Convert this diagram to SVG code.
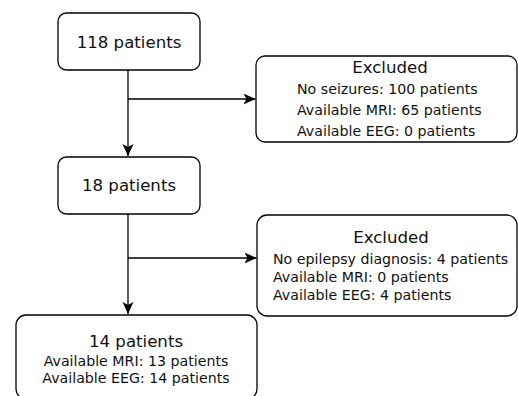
<svg xmlns="http://www.w3.org/2000/svg" width="518" height="396" viewBox="0 0 518 396">
<style>
.box{fill:#fff;stroke:#000;stroke-width:1.3}
.t{font-family:"DejaVu Sans",Verdana,sans-serif;fill:#111}
.big{font-size:16.6px}
.sm{font-size:14.2px}
.c{text-anchor:middle}
.edge{fill:none;stroke:#000;stroke-width:1.3}
</style>
<defs>
<marker id="arr" markerUnits="userSpaceOnUse" markerWidth="13" markerHeight="13" viewBox="0 0 13 12" refX="12" refY="6" orient="auto">
<path d="M0,0.5 L12,6 L0,11.5 L3,6 Z" fill="#000"/>
</marker>
</defs>
<rect width="518" height="396" fill="#fff"/>
<g id="connectors">
<path class="edge" d="M128,70 V156" marker-end="url(#arr)"/>
<path class="edge" d="M128,99 H255.5" marker-end="url(#arr)"/>
<path class="edge" d="M128,214 V314" marker-end="url(#arr)"/>
<path class="edge" d="M128,258 H256.5" marker-end="url(#arr)"/>
</g>
<g id="n118">
<rect class="box" x="58" y="13" width="142" height="57" rx="8.5"/>
<text class="t big c" x="129" y="48">118 patients</text>
</g>
<g id="excl1">
<rect class="box" x="256" y="56" width="261" height="86" rx="9"/>
<text class="t big c" x="390" y="73">Excluded</text>
<text class="t sm" x="297" y="93.5">No seizures: 100 patients</text>
<text class="t sm" x="297" y="115">Available MRI: 65 patients</text>
<text class="t sm" x="297" y="136">Available EEG: 0 patients</text>
</g>
<g id="n18">
<rect class="box" x="58" y="157" width="142" height="57" rx="8.5"/>
<text class="t big c" x="129" y="191">18 patients</text>
</g>
<g id="excl2">
<rect class="box" x="257" y="215" width="260" height="101" rx="10"/>
<text class="t big c" x="391" y="243">Excluded</text>
<text class="t sm" x="273" y="264">No epilepsy diagnosis: 4 patients</text>
<text class="t sm" x="273" y="282">Available MRI: 0 patients</text>
<text class="t sm" x="273" y="299.5">Available EEG: 4 patients</text>
</g>
<g id="n14">
<rect class="box" x="16" y="315" width="241" height="84" rx="10"/>
<text class="t big c" x="136" y="347">14 patients</text>
<text class="t sm c" x="136" y="366">Available MRI: 13 patients</text>
<text class="t sm c" x="136" y="383">Available EEG: 14 patients</text>
</g>
</svg>
